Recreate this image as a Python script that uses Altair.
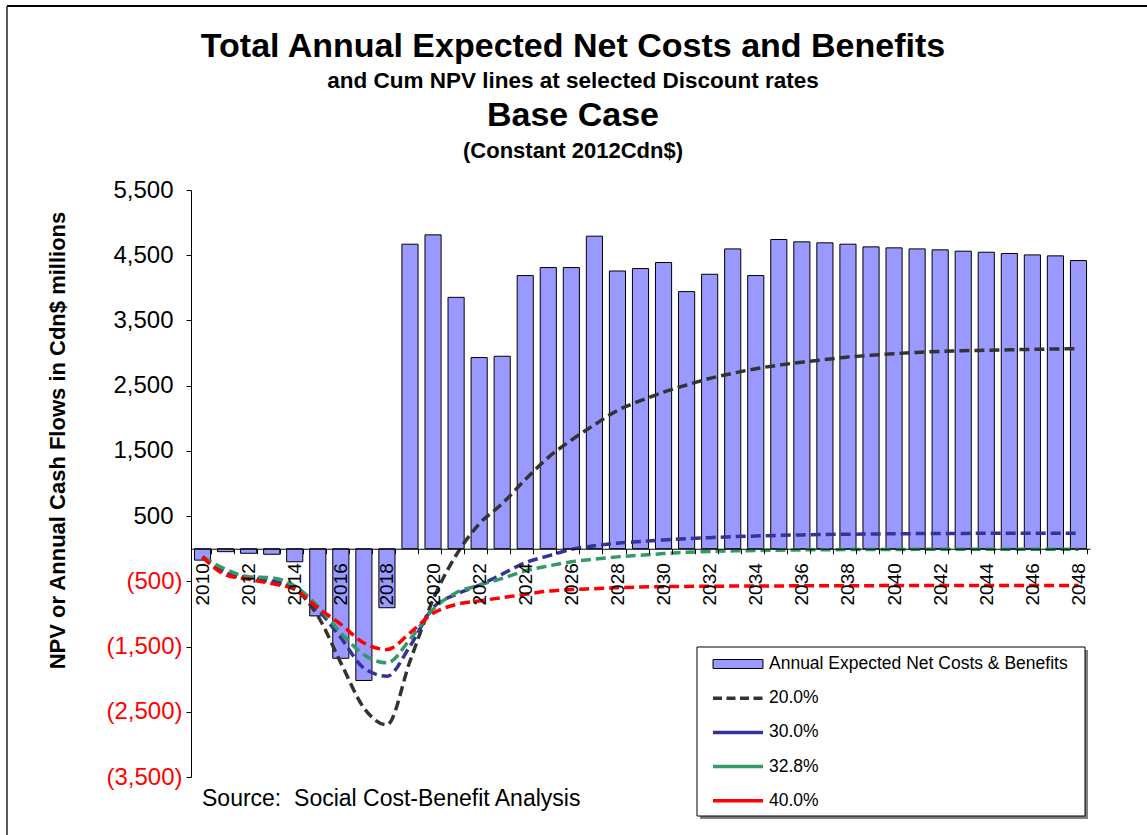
import altair as alt
import pandas as pd

# ---------------- data ----------------
years = list(range(2010, 2049))
annual = [-175, -45, -70, -85, -200, -1030, -1680, -2020, -905,
          4669, 4812, 3854, 2931, 2951, 4188, 4311, 4311, 4792, 4258, 4295, 4388,
          3942, 4208, 4597, 4188, 4741, 4705, 4690, 4669, 4628, 4613, 4597, 4582,
          4562, 4546, 4526, 4505, 4490, 4418]
npv_20 = [-125, -370, -450, -510, -620, -1030, -1750, -2440, -2700,
          -1725, -780, -100, 380, 690, 1060, 1400, 1665, 1900, 2120, 2270, 2400,
          2510, 2610, 2690, 2760, 2815, 2860, 2900, 2940, 2965, 2990, 3010, 3025,
          3035, 3043, 3050, 3057, 3063, 3068]
npv_30 = [-125, -366, -443, -495, -600, -930, -1365, -1830, -1955,
          -1495, -905, -700, -560, -390, -215, -110, -10, 45, 85, 110, 135,
          155, 170, 185, 195, 205, 212, 218, 222, 226, 229, 232, 234,
          235, 236, 237, 238, 238, 238]
npv_328 = [-125, -315, -428, -445, -572, -880, -1290, -1625, -1750,
           -1390, -930, -675, -560, -455, -340, -265, -200, -160, -125, -100, -75,
           -55, -42, -33, -27, -22, -18, -15, -13, -12, -11, -10, -10,
           -10, -10, -10, -10, -10, -10]
npv_40 = [-125, -400, -470, -535, -625, -905, -1160, -1445, -1545,
          -1290, -990, -855, -800, -750, -700, -650, -625, -612, -597, -587, -582,
          -578, -575, -573, -571, -570, -569, -568, -567, -566, -565, -565, -565,
          -565, -565, -565, -565, -565, -565]
rates = ["20.0%", "30.0%", "32.8%", "40.0%"]
rate_colors = ["#333333", "#333399", "#339966", "#FF0000"]
y_ticks = [-3500, -2500, -1500, -500, 500, 1500, 2500, 3500, 4500, 5500]
title_lines = ["Total Annual Expected Net Costs and Benefits",
               "and Cum NPV lines at selected Discount rates",
               "Base Case",
               "(Constant 2012Cdn$)"]
legend_labels = ["Annual Expected Net Costs & Benefits"] + rates
source_text = "Source:\u00a0 Social Cost-Benefit Analysis"
y_title = "NPV or Annual Cash Flows in Cdn$ millions"

# ---------------- tables ----------------
bars_df = pd.DataFrame({"year": years, "value": annual})
lines_df = pd.concat(
    [pd.DataFrame({"year": years, "value": v, "rate": r})
     for v, r in zip([npv_20, npv_30, npv_328, npv_40], rates)],
    ignore_index=True)
legend_df = pd.DataFrame({"label": legend_labels, "rate": [""] + rates})
one = pd.DataFrame({"k": [0]})

# ---------------- layout ----------------
FONT = "Liberation Sans"
W, H = 899, 587
PAD = {"left": 191, "top": 190, "right": 57, "bottom": 58}
y_min, y_max = y_ticks[0], y_ticks[-1]
x_axis_offset = -H * (0 - y_min) / (y_max - y_min)

color_scale = alt.Scale(domain=rates, range=rate_colors)

x_enc = alt.X(
    "year:O",
    scale=alt.Scale(paddingInner=0.3, paddingOuter=0.15),
    axis=alt.Axis(
        title=None, offset=x_axis_offset, labelAngle=270,
        labelFont=FONT, labelFontSize=19, labelColor="black",
        labelPadding=9, labelOverlap=False,
        labelExpr="datum.value % 2 == 0 ? datum.label : ''",
        tickBand="extent", tickSize=5, tickColor="black",
        domainColor="black", domainWidth=1, zindex=1),
)
y_enc = alt.Y(
    "value:Q",
    scale=alt.Scale(domain=[y_min, y_max], nice=False, zero=False),
    axis=alt.Axis(
        values=y_ticks, grid=False,
        title=y_title, titleFont=FONT, titleFontSize=22,
        titleFontWeight="bold", titleColor="black", titleAngle=270,
        titleX=-134, titleY=250, titleAlign="center", titleBaseline="middle",
        labelFont=FONT, labelFontSize=24,
        labelExpr="datum.value < 0 ? '(' + format(-datum.value, ',') + ')' : format(datum.value, ',')",
        labelColor=alt.condition("datum.value < 0", alt.value("#FF0000"), alt.value("black")),
        labelPadding=alt.condition("datum.value < 0", alt.value(4), alt.value(13)),
        tickSize=5, tickColor="black", domainColor="black", zindex=1),
)

# ---------------- layers ----------------
border_top = alt.Chart(one).mark_rule(color="black", strokeWidth=2).encode(
    x=alt.value(-184), x2=alt.value(960), y=alt.value(-184))
border_left = alt.Chart(one).mark_rule(color="#222222", strokeWidth=1.5).encode(
    x=alt.value(-184), y=alt.value(-184), y2=alt.value(650))

title_specs = [(34, -143), (22.5, -109), (34, -74), (22, -39)]
title_layers = [
    alt.Chart(one).mark_text(text=t, font=FONT, fontWeight="bold",
                             fontSize=fs, align="center", baseline="middle",
                             color="black").encode(x=alt.value(382), y=alt.value(yy))
    for t, (fs, yy) in zip(title_lines, title_specs)
]

bars = alt.Chart(bars_df).mark_bar(color="#9999FF", stroke="black", strokeWidth=1).encode(
    x=x_enc, y=y_enc)

lines = alt.Chart(lines_df).mark_line(
    strokeDash=[10, 5], strokeWidth=3.5, interpolate="monotone").encode(
    x=x_enc, y=y_enc,
    color=alt.Color("rate:N", scale=color_scale, legend=None))

# legend box
leg_shadow = alt.Chart(one).mark_rect(fill="#808080").encode(
    x=alt.value(509), x2=alt.value(897), y=alt.value(460), y2=alt.value(629))
leg_box = alt.Chart(one).mark_rect(fill="white", stroke="black", strokeWidth=1).encode(
    x=alt.value(506), x2=alt.value(894), y=alt.value(457), y2=alt.value(626))

LEG_Y0, LEG_DY = 474, 34.2
legend_base = alt.Chart(legend_df).transform_window(
    idx="row_number()").transform_calculate(
    py=f"{LEG_Y0} + (datum.idx - 1) * {LEG_DY}")

py_enc = alt.Y("py:Q", scale=None, axis=None)

leg_bar = alt.Chart(one).mark_rect(fill="#9999FF", stroke="black", strokeWidth=1).encode(
    x=alt.value(522), x2=alt.value(572), y=alt.value(LEG_Y0 - 4.5), y2=alt.value(LEG_Y0 + 4.5))
leg_dashed = legend_base.transform_filter("datum.idx == 2").mark_rule(
    strokeWidth=3.5, strokeDash=[9, 4.5]).encode(
    x=alt.value(522), x2=alt.value(572), y=py_enc,
    color=alt.Color("rate:N", scale=color_scale, legend=None))
leg_solid = legend_base.transform_filter("datum.idx > 2").mark_rule(
    strokeWidth=3.5).encode(
    x=alt.value(522), x2=alt.value(572), y=py_enc,
    color=alt.Color("rate:N", scale=color_scale, legend=None))
leg_text = legend_base.mark_text(
    align="left", baseline="middle", font=FONT, fontSize=17.5, color="black").encode(
    x=alt.value(578), y=py_enc, text="label:N")

source = alt.Chart(one).mark_text(
    text=source_text, align="left", baseline="middle", font=FONT,
    fontSize=23, color="black").encode(x=alt.value(11), y=alt.value(609))

chart = alt.layer(
    border_top, border_left, *title_layers, bars, lines,
    leg_shadow, leg_box, leg_bar, leg_dashed, leg_solid, leg_text, source
).properties(
    width=W, height=H,
    autosize=alt.AutoSizeParams(type="none"),
    padding=PAD,
    background="white",
).configure_view(strokeWidth=0)

chart.save("out.html", embed_options={"renderer": "svg", "actions": False})
